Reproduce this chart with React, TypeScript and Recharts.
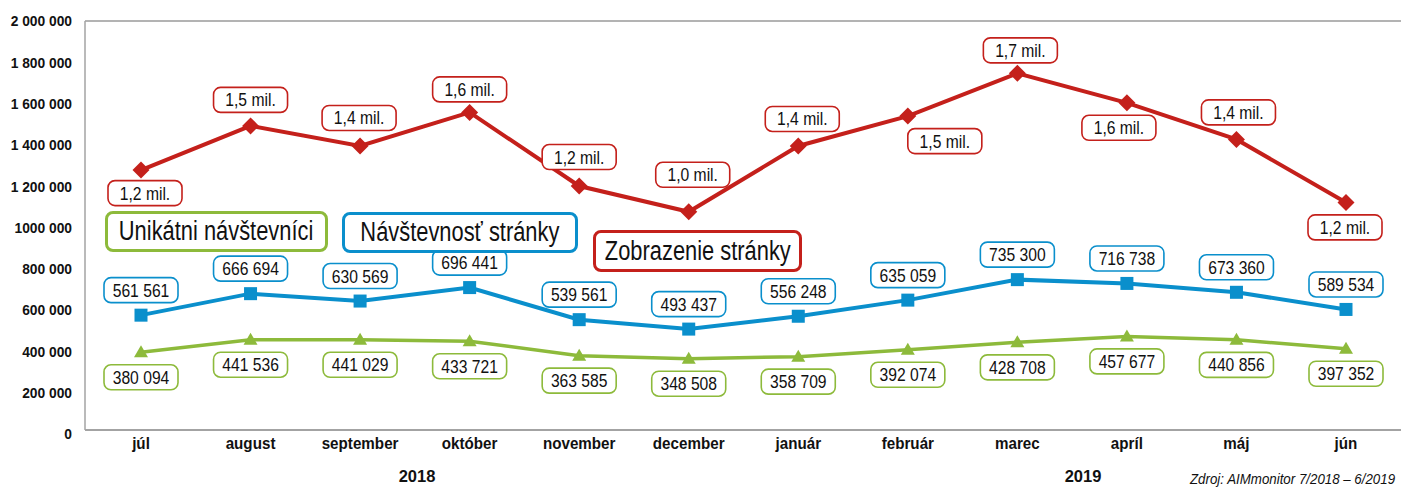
import React from "react"
import { LineChart, Line, XAxis, YAxis, CartesianGrid, LabelList } from "recharts"

// Liberation Sans squeezed horizontally stands in for the condensed Helvetica of the original
const FONT = "'Liberation Sans', Arial, sans-serif"

const months = ["júl", "august", "september", "október", "november", "december", "január", "február", "marec", "apríl", "máj", "jún"]
const years = ["2018", "2019"]

// Zobrazenie stránky (labels as printed)
const pageViews = [1271000, 1487000, 1389000, 1553000, 1193000, 1067000, 1389000, 1535000, 1744000, 1600000, 1421000, 1113000]
const pageViewLabels = ["1,2 mil.", "1,5 mil.", "1,4 mil.", "1,6 mil.", "1,2 mil.", "1,0 mil.", "1,4 mil.", "1,5 mil.", "1,7 mil.", "1,6 mil.", "1,4 mil.", "1,2 mil."]

// Návštevnosť stránky
const visits = [561561, 666694, 630569, 696441, 539561, 493437, 556248, 635059, 735300, 716738, 673360, 589534]

// Unikátni návštevníci
const visitors = [380094, 441536, 441029, 433721, 363585, 348508, 358709, 392074, 428708, 457677, 440856, 397352]

const yTicks = [0, 200000, 400000, 600000, 800000, 1000000, 1200000, 1400000, 1600000, 1800000, 2000000]
const yTickLabels = ["0", "200 000", "400 000", "600 000", "800 000", "1000 000", "1 200 000", "1 400 000", "1 600 000", "1 800 000", "2 000 000"]
const gridSteps = [0, 1, 2, 3, 4, 5, 6, 7, 8, 9]

const RED = "#c4201b"
const BLUE = "#0a8fcc"
const GREEN = "#8dba3b"

// where the value boxes sit relative to their point
const redLabelDx = [4, 0, -1, 0, 0, 4, 4, 37, 3, -8, 2, -1]
const redLabelDy = [23, -26, -28, -23, -29, -37, -27, 25, -23, 25, -27, 25]

const data = months.map((m, i) => ({
  i,
  month: m,
  views: pageViews[i],
  visits: visits[i],
  visitors: visitors[i],
}))

const fmt = (n: number) => String(n).replace(/\B(?=(\d{3})+(?!\d))/g, " ")

function boxLabel(color: string, text: (i: number) => string, dx: (i: number) => number, dy: (i: number) => number) {
  return (props: any) => {
    const i = Number(props.value)
    const cx = props.x + dx(i)
    const cy = props.y + dy(i)
    return (
      <g key={`lb-${color}-${i}`}>
        <rect x={cx - 37} y={cy - 12.5} width={74} height={25} rx={7} fill="#fff" stroke={color} strokeWidth={1.6} />
        <text
          transform={`translate(${cx},${cy + 6.5}) scale(0.87,1)`}
          textAnchor="middle"
          fontSize={18}
          fontFamily={FONT}
          fill="#111"
        >
          {text(i)}
        </text>
      </g>
    )
  }
}

const yTick = (p: any) => {
  const v = p.payload.value
  const shift = 4 * (1 - v / 2000000)
  return (
    <text
      key={`yt-${v}`}
      transform={`translate(${p.x},${p.y + shift + 5.3}) scale(0.92,1)`}
      textAnchor="end"
      fontSize={15}
      fontWeight={700}
      fontFamily={FONT}
      fill="#111"
    >
      {yTickLabels[yTicks.indexOf(v)] ?? fmt(v)}
    </text>
  )
}

const xTick = (p: any) => (
  <text
    key={`xt-${p.payload.value}`}
    transform={`translate(${p.x},${p.y + 12}) scale(0.95,1)`}
    textAnchor="middle"
    fontSize={16}
    fontWeight={700}
    fontFamily={FONT}
    fill="#111"
  >
    {p.payload.value}
  </text>
)

const diamond = (p: any) => (
  <path key={`dm-${p.index}`} d={`M${p.cx},${p.cy - 8.5}L${p.cx + 8.5},${p.cy}L${p.cx},${p.cy + 8.5}L${p.cx - 8.5},${p.cy}Z`} fill={RED} />
)
const square = (p: any) => (
  <rect key={`sq-${p.index}`} x={p.cx - 6.5} y={p.cy - 6.5} width={13} height={13} fill={BLUE} />
)
const triangle = (p: any) => (
  <path key={`tr-${p.index}`} d={`M${p.cx},${p.cy - 7}L${p.cx + 7},${p.cy + 5}L${p.cx - 7},${p.cy + 5}Z`} fill={GREEN} />
)

const legendBox = (color: string): React.CSSProperties => ({
  position: "absolute",
  boxSizing: "border-box",
  border: `3px solid ${color}`,
  borderRadius: 8,
  background: "#fff",
  display: "flex",
  alignItems: "center",
  justifyContent: "center",
  fontFamily: FONT,
  fontSize: 27,
  color: "#111",
  whiteSpace: "nowrap",
})

const squeeze: React.CSSProperties = { display: "inline-block", transform: "scaleX(0.81)" }

export default function App() {
  return (
    <div style={{ position: "absolute", left: 0, top: 0, width: 1407, height: 487, background: "#fff", overflow: "hidden" }}>
      <LineChart width={1407} height={487} data={data} margin={{ top: 21, right: 6, bottom: 27, left: 0 }}>
        <CartesianGrid yAxisId="grid" vertical={false} stroke="#9a9a9a" strokeWidth={1.5} />
        <XAxis
          dataKey="month"
          interval={0}
          padding={{ left: 56, right: 55 }}
          height={30}
          tickLine={false}
          tickSize={0}
          tickMargin={7}
          axisLine={{ stroke: "#a3a3a3", strokeWidth: 2 }}
          tick={xTick}
        />
        <YAxis
          yAxisId="val"
          domain={[0, 2000000]}
          ticks={yTicks}
          width={85}
          tickLine={false}
          tickSize={0}
          tickMargin={13}
          axisLine={{ stroke: "#a3a3a3", strokeWidth: 1.5 }}
          tick={yTick}
        />
        <YAxis
          yAxisId="grid"
          orientation="right"
          domain={[0, 9]}
          ticks={gridSteps}
          width={0}
          tick={false}
          tickLine={false}
          axisLine={{ stroke: "#222", strokeWidth: 1.5 }}
        />
        <Line yAxisId="val" dataKey="visitors" stroke={GREEN} strokeWidth={3.5} dot={triangle} activeDot={false} isAnimationActive={false}>
          <LabelList dataKey="i" content={boxLabel(GREEN, (i) => fmt(visitors[i]), () => 0, () => 25)} />
        </Line>
        <Line yAxisId="val" dataKey="visits" stroke={BLUE} strokeWidth={4} dot={square} activeDot={false} isAnimationActive={false}>
          <LabelList dataKey="i" content={boxLabel(BLUE, (i) => fmt(visits[i]), () => 0, () => -25)} />
        </Line>
        <Line yAxisId="val" dataKey="views" stroke={RED} strokeWidth={4} dot={diamond} activeDot={false} isAnimationActive={false}>
          <LabelList dataKey="i" content={boxLabel(RED, (i) => pageViewLabels[i], (i) => redLabelDx[i], (i) => redLabelDy[i])} />
        </Line>
      </LineChart>

      <div style={{ ...legendBox(GREEN), left: 105, top: 211, width: 223, height: 41 }}>
        <span style={squeeze}>Unikátni návštevníci</span>
      </div>
      <div style={{ ...legendBox(BLUE), left: 342, top: 212, width: 236, height: 41 }}>
        <span style={squeeze}>Návštevnosť stránky</span>
      </div>
      <div style={{ ...legendBox(RED), left: 593, top: 230, width: 209, height: 42 }}>
        <span style={squeeze}>Zobrazenie stránky</span>
      </div>

      <div style={{ position: "absolute", left: 417, top: 466, transform: "translateX(-50%)", fontFamily: FONT, fontWeight: 700, fontSize: 16.5, lineHeight: "20px", color: "#111" }}>{years[0]}</div>
      <div style={{ position: "absolute", left: 1083, top: 466, transform: "translateX(-50%)", fontFamily: FONT, fontWeight: 700, fontSize: 16.5, lineHeight: "20px", color: "#111" }}>{years[1]}</div>
      <div style={{ position: "absolute", left: 1190, top: 471, fontFamily: FONT, fontStyle: "italic", fontSize: 14, lineHeight: "16px", color: "#111", whiteSpace: "nowrap", transform: "scaleX(0.95)", transformOrigin: "left center" }}>
        Zdroj: AIMmonitor 7/2018 – 6/2019
      </div>
    </div>
  )
}
